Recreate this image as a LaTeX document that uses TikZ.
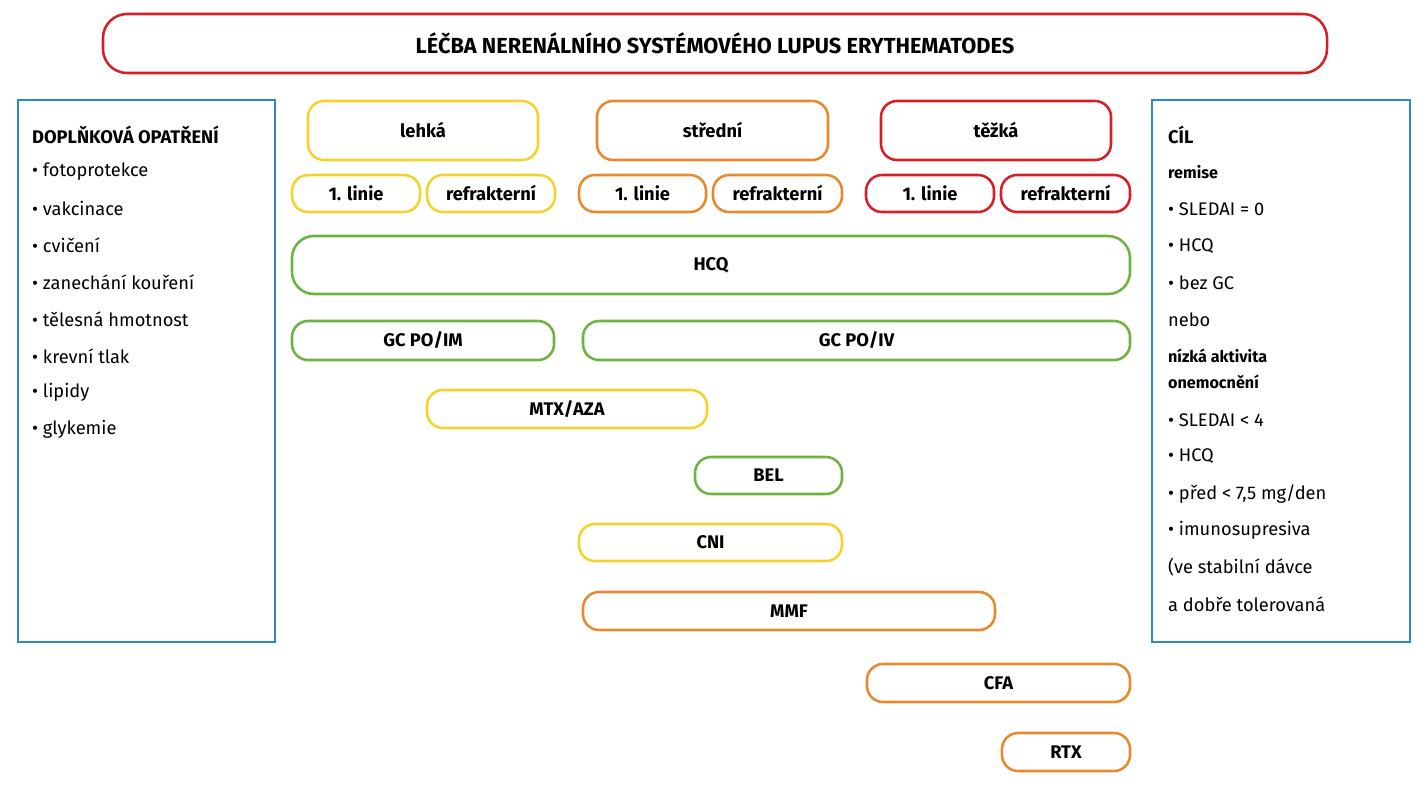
\documentclass[tikz,border=0pt]{standalone}
\usepackage{fontspec}
\setmainfont{Fira Sans}
\definecolor{sred}{HTML}{D52029}
\definecolor{sorange}{HTML}{E8892F}
\definecolor{syellow}{HTML}{F4D22C}
\definecolor{sgreen}{HTML}{6DB33F}
\definecolor{sblue}{HTML}{2A8AC8}
\tikzset{
  box/.style 2 args={draw,line width=3.6pt,rounded corners=0.8cm,inner sep=0pt,
    minimum width={#1*0.05cm},minimum height={#2*0.05cm},
    font=\fontsize{26}{30}\selectfont\bfseries},
  panel/.style 2 args={draw=sblue,line width=3pt,inner sep=0pt,
    minimum width={#1*0.05cm},minimum height={#2*0.05cm}},
  item/.style={anchor=west,inner sep=0pt,font=\fontsize{26}{30}\selectfont},
  head/.style={item,font=\fontsize{26}{30}\selectfont\bfseries},
}
\begin{document}
\begin{tikzpicture}[x=0.05cm,y=-0.05cm]
  \useasboundingbox (0,0) rectangle (1426,800);

  % Title and panels
  \node[box={1224}{59},draw=sred,rounded corners=1.2cm,font=\fontsize{31}{36}\selectfont\bfseries] (title) at (715,43.5) {LÉČBA NERENÁLNÍHO SYSTÉMOVÉHO LUPUS ERYTHEMATODES};
  \node[panel={257}{542}] (left) at (146.5,371) {};
  \node[panel={258}{542}] (right) at (1281,371) {};

  % Severity
  \node[box={230}{59},draw=syellow] (lehka) at (423,130.5) {lehká};
  \node[box={231}{59},draw=sorange] (stredni) at (712.5,130.5) {střední};
  \node[box={230}{59},draw=sred] (tezka) at (996,130.5) {těžká};

  \begin{scope}[every node/.append style={font=\fontsize{24}{28}\selectfont}]
    \node[box={128}{37},draw=syellow] (l1) at (356,193.5) {1. linie};
    \node[box={128}{37},draw=syellow] (l2) at (491,193.5) {refrakterní};
    \node[box={127}{37},draw=sorange] (s1) at (642.5,193.5) {1. linie};
    \node[box={129}{37},draw=sorange] (s2) at (777.5,193.5) {refrakterní};
    \node[box={128}{37},draw=sred] (t1) at (930,193.5) {1. linie};
    \node[box={129}{37},draw=sred] (t2) at (1065.5,193.5) {refrakterní};
  \end{scope}

  % Drugs
  \node[box={838}{58},draw=sgreen,rounded corners=1.1cm] (hcq) at (711,265) {HCQ};
  \node[box={262}{39},draw=sgreen] (gcim) at (423,340.5) {GC PO/IM};
  \node[box={547}{39},draw=sgreen] (gciv) at (856.5,340.5) {GC PO/IV};
  \node[box={280}{38},draw=syellow] (mtx) at (567,409) {MTX/AZA};
  \node[box={147}{37},draw=sgreen] (bel) at (768.5,475.5) {BEL};
  \node[box={263}{37},draw=syellow] (cni) at (710.5,542.5) {CNI};
  \node[box={412}{38},draw=sorange] (mmf) at (789,611) {MMF};
  \node[box={263}{38},draw=sorange] (cfa) at (998.5,683) {CFA};
  \node[box={128}{38},draw=sorange] (rtx) at (1066,752) {RTX};

  % Left list
  \node[head] (lhead) at (32,135) {DOPLŇKOVÁ OPATŘENÍ};
  \foreach \t [count=\i] in {fotoprotekce,vakcinace,cvičení,zanechání kouření,
      tělesná hmotnost,krevní tlak,lipidy,glykemie}
    \node[item] (la\i) at (32,{135+36.8*\i}) {• \t};

  % Right list
  \node[head] (rhead) at (1168,135) {CÍL};
  \node[head,font=\fontsize{23}{27}\selectfont\bfseries] (r1) at (1168,172) {remise};
  \node[item] (r2) at (1168,209) {• SLEDAI = 0};
  \node[item] (r3) at (1168,246) {• HCQ};
  \node[item] (r4) at (1168,283) {• bez GC};
  \node[item] (r5) at (1168,320) {nebo};
  \node[head,font=\fontsize{23}{27}\selectfont\bfseries] (r6) at (1168,356) {nízká aktivita};
  \node[head,font=\fontsize{23}{27}\selectfont\bfseries] (r7) at (1168,382) {onemocnění};
  \node[item] (r8) at (1168,420) {• SLEDAI < 4};
  \node[item] (r9) at (1168,456) {• HCQ};
  \node[item] (r10) at (1168,494) {• před < 7,5 mg/den};
  \node[item] (r11) at (1168,530) {• imunosupresiva};
  \node[item] (r12) at (1168,567) {(ve stabilní dávce};
  \node[item] (r13) at (1168,604) {a dobře tolerovaná};

\end{tikzpicture}
\end{document}
